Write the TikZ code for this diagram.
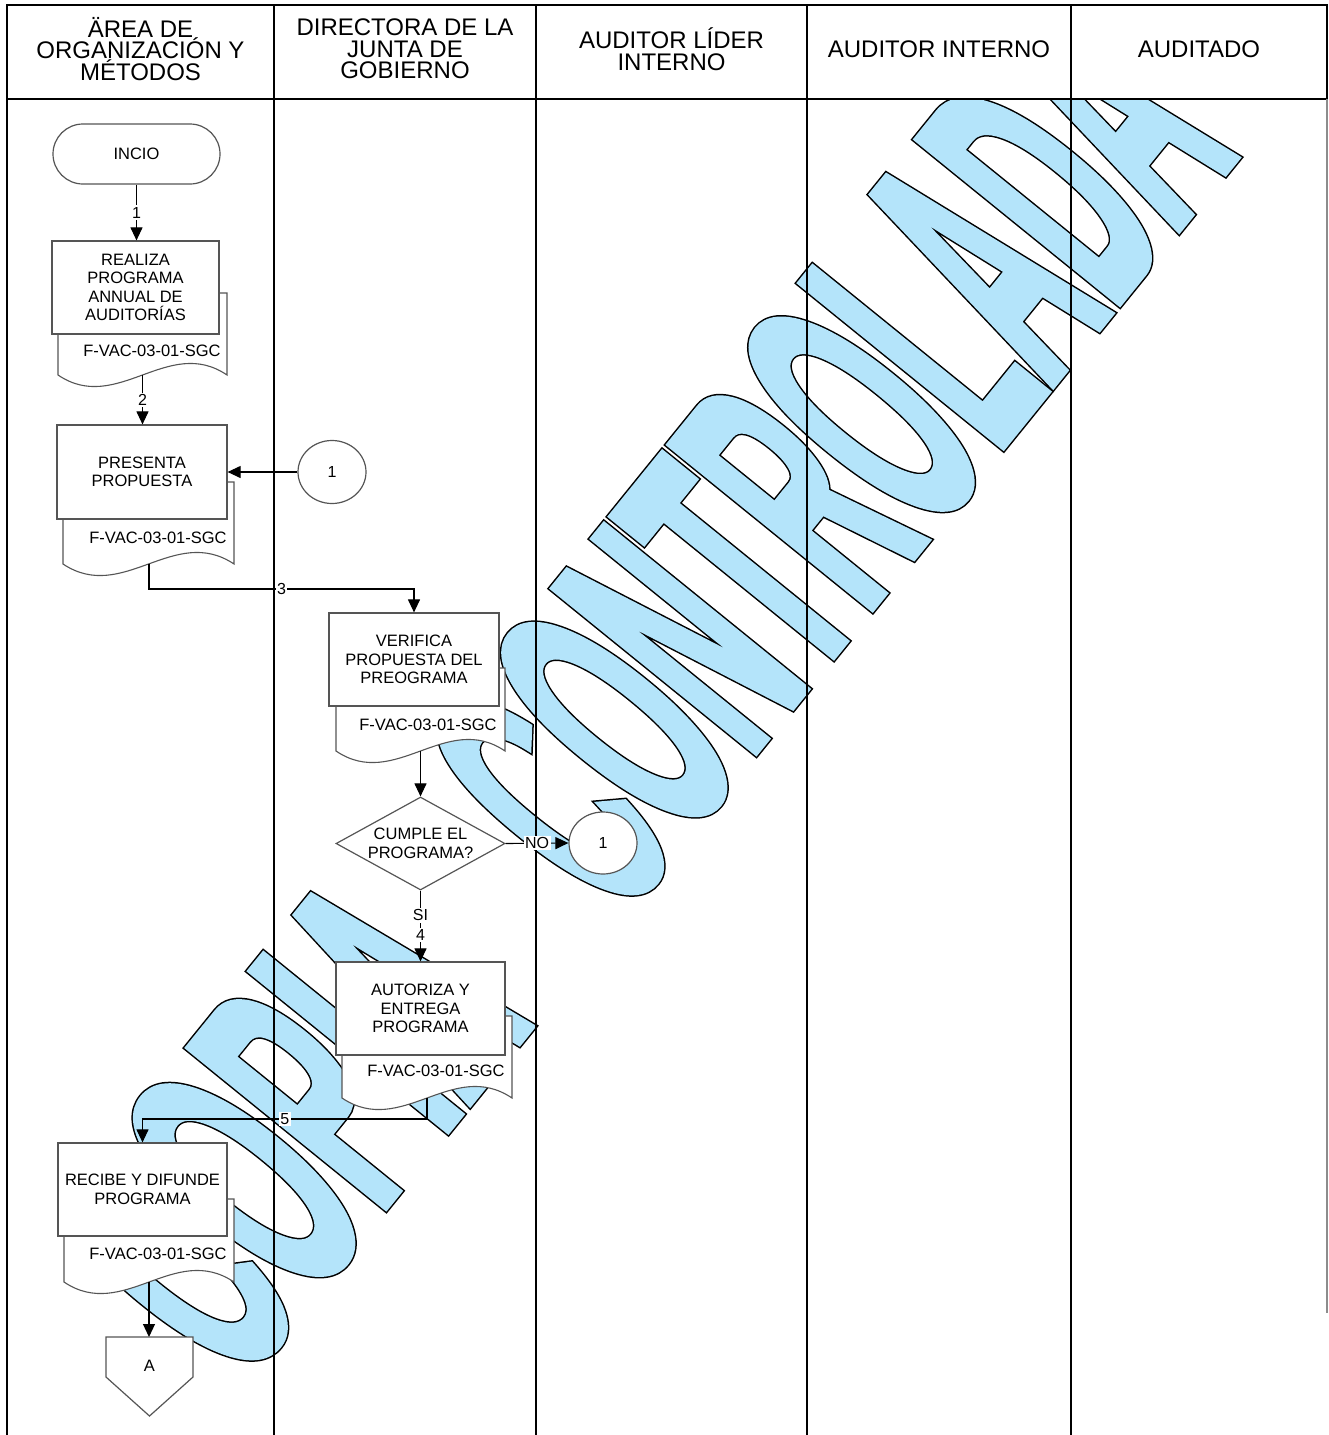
\documentclass[tikz,border=0pt]{standalone}
\usepackage{fontspec}
\setmainfont{Liberation Sans}
\newfontfamily\wmfontA{Liberation Sans}[FakeStretch=0.40]
\newfontfamily\wmfontB{Liberation Sans}[FakeStretch=0.365]
\usetikzlibrary{arrows.meta,shapes.geometric}
\definecolor{wm}{RGB}{180,228,250}
\definecolor{boxgray}{RGB}{85,85,85}
\newcommand\wmouter{\special{pdf:literal direct 0 0 0 RG 0 0 0 rg 8.5 w 2 Tr 4 M}}
\newcommand\wminner{\special{pdf:literal direct 0.706 0.894 0.980 RG 0.706 0.894 0.980 rg 5.5 w 2 Tr 4 M}}
\newcommand\wmoff{\special{pdf:literal direct 0 Tr}}
\tikzset{
  lane/.style={line width=1.8pt, draw=black},
  hdr/.style={align=center, inner sep=0pt, font=\fontsize{24}{21.5}\selectfont},
  proc/.style={draw=boxgray, line width=1.2pt, fill=white, minimum width=169pt, minimum height=93pt,
     inner sep=0pt, align=center, font=\fontsize{16.5}{18.5}\selectfont},
  term/.style={draw=boxgray, line width=1.2pt, fill=white, rounded corners=30pt, minimum width=167pt,
     minimum height=60pt, inner sep=0pt, font=\fontsize{16.5}{18.5}\selectfont},
  docline/.style={draw=boxgray, line width=1.1pt, fill=white},
  doctxt/.style={inner sep=0pt, font=\fontsize{16.5}{18.5}\selectfont},
  arr/.style={line width=1.1pt, draw=black, -{Triangle[length=13pt,width=12pt]}},
  lbl/.style={fill=white, inner sep=1.5pt, font=\fontsize{16}{18}\selectfont},
  conn/.style={draw=boxgray, line width=1.2pt, fill=white, ellipse, minimum width=68pt, minimum height=63pt,
     inner sep=0pt, font=\fontsize{16}{18}\selectfont},
  wmtext/.style={inner sep=0pt, outer sep=0pt, text=wm, anchor=base west, rotate=51}
}
\begin{document}
\begin{tikzpicture}[x=1pt,y=-1pt]
\useasboundingbox (0,0) rectangle (1328,1435);

% watermark (outline layer, then fill layer)
\begin{scope}
\clip (7,99) rectangle (1327,1435);
\node[wmtext] (wm1o) at (240,1388) {\fontsize{370}{370}\wmfontA\bfseries\wmouter COPIA\wmoff};
\node[wmtext] (wm2o) at (619.3,921.6) {\fontsize{380}{380}\wmfontB\bfseries\wmouter CONTROLADA\wmoff};
\node[wmtext] (wm1) at (240,1388) {\fontsize{370}{370}\wmfontA\bfseries\wminner COPIA\wmoff};
\node[wmtext] (wm2) at (619.3,921.6) {\fontsize{380}{380}\wmfontB\bfseries\wminner CONTROLADA\wmoff};
\end{scope}

% lanes and header
\draw[lane] (7,1435) -- (7,5) -- (1327,5) -- (1327,99);
\draw[line width=1.3pt] (7,99) -- (1327,99);
\draw[line width=1.5pt, draw=black!45] (1327,99) -- (1327,1313);
\draw[lane] (274,5) -- (274,1435);
\draw[lane] (536,5) -- (536,1435);
\draw[lane] (807,5) -- (807,1435);
\draw[lane] (1071,5) -- (1071,1435);

\node[hdr] (h1) at (140.5,49) {ÄREA DE\\ORGANIZACIÓN Y\\MÉTODOS};
\node[hdr] (h2) at (405,49) {DIRECTORA DE LA\\JUNTA DE\\GOBIERNO};
\node[hdr] (h3) at (671.5,49) {AUDITOR LÍDER\\INTERNO};
\node[hdr] (h4) at (939,49) {AUDITOR INTERNO};
\node[hdr] (h5) at (1199,49) {AUDITADO};

% start
\node[term] (inicio) at (136.5,154) {INCIO};

% document shapes (behind the process boxes)
\draw[docline] (58,293) -- (227,293) -- (227,375) .. controls (168,335) and (117,415) .. (58,375) -- cycle;
\draw[docline] (63,482) -- (234,482) -- (234,564) .. controls (174,524) and (123,604) .. (63,564) -- cycle;
\draw[docline] (336,668) -- (505,668) -- (505,751) .. controls (446,711) and (395,791) .. (336,751) -- cycle;
\draw[docline] (342,1016) -- (512,1016) -- (512,1098) .. controls (452.5,1058) and (401.5,1138) .. (342,1098) -- cycle;
\draw[docline] (64,1199) -- (234,1199) -- (234,1282) .. controls (174.5,1242) and (123.5,1322) .. (64,1282) -- cycle;

\coordinate (d1b) at (142.5,375);
\coordinate (d2b) at (149,564);
\coordinate (d3b) at (420.5,751);
\coordinate (d4b) at (427,1098);
\coordinate (d5b) at (149,1282);

\node[doctxt] (t1) at (152,351) {F-VAC-03-01-SGC};
\node[doctxt] (t2) at (158,538) {F-VAC-03-01-SGC};
\node[doctxt] (t3) at (428,725) {F-VAC-03-01-SGC};
\node[doctxt] (t4) at (436,1071) {F-VAC-03-01-SGC};
\node[doctxt] (t5) at (158,1254) {F-VAC-03-01-SGC};

% process boxes
\node[proc, minimum width=167pt] (r1) at (135.5,287.5) {REALIZA\\PROGRAMA\\ANNUAL DE\\AUDITORÍAS};
\node[proc, minimum width=170pt, minimum height=94pt] (r2) at (142,472) {PRESENTA\\PROPUESTA};
\node[proc, minimum width=170pt] (r3) at (414,659.5) {VERIFICA\\PROPUESTA DEL\\PREOGRAMA};
\node[proc] (r4) at (420.5,1008.5) {AUTORIZA Y\\ENTREGA\\PROGRAMA};
\node[proc] (r5) at (142.5,1189.5) {RECIBE Y DIFUNDE\\PROGRAMA};

% decision and connectors
\node[draw=boxgray, line width=1.2pt, fill=white, diamond, aspect=1.82, minimum width=169pt, minimum height=93pt,
  inner sep=0pt, align=center, font=\fontsize{16.5}{18.5}\selectfont] (dm) at (420.5,843.5) {CUMPLE EL\\PROGRAMA?};
\node[conn] (c1) at (332,472) {1};
\node[conn, minimum height=62pt] (c2) at (603,843) {1};

% off-page connector
\draw[draw=boxgray, line width=1.2pt, fill=white] (106,1337) -- (193,1337) -- (193,1377) -- (149.5,1416) -- (106,1377) -- cycle;
\node[doctxt] (offA) at (149.5,1366) {A};
\coordinate (offtop) at (149,1337);

% flow
\draw[arr] (inicio.south) -- node[lbl]{1} (inicio.south |- r1.north);
\draw[arr] (d1b) -- node[lbl]{2} (d1b |- r2.north);
\draw[arr] (c1.west) -- (r2.east);
\coordinate (k3) at (149,589);
\draw[arr] (d2b) -- (k3) -- node[lbl]{3} (k3 -| r3.north) -- (r3.north);
\draw[arr] (d3b) -- (dm.north);
\draw[arr] (dm.east) -- node[lbl]{NO} (c2.west);
\draw[arr] (dm.south) -- node[lbl,pos=0.35]{SI} node[lbl,pos=0.62]{4} (r4.north);
\coordinate (k5) at (427,1119);
\draw[arr] (d4b) -- (k5) -- node[lbl]{5} (k5 -| r5.north) -- (r5.north);
\draw[arr] (d5b) -- (offtop);
\end{tikzpicture}
\end{document}
